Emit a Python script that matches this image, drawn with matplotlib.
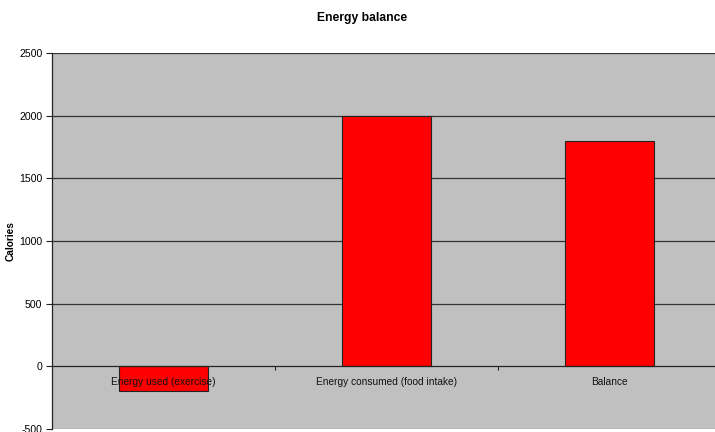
import matplotlib
matplotlib.use("Agg")
import matplotlib.pyplot as plt

categories = ["Energy used (exercise)", "Energy consumed (food intake)", "Balance"]
values = [-200, 2000, 1800]
yticks = [-500, 0, 500, 1000, 1500, 2000, 2500]

plt.rcParams['font.family'] = ['Liberation Sans', 'DejaVu Sans']

fig = plt.figure(figsize=(7.15, 4.32), dpi=100)
W, H = 715, 432
left, right, top, bottom = 52, 721, 53, 429
ax = fig.add_axes([left / W, 1 - bottom / H, (right - left) / W, (bottom - top) / H])
ax.set_facecolor('#C0C0C0')

x = list(range(len(categories)))
ax.bar(x, values, width=0.4, color='#FF0000', edgecolor='#222222', linewidth=0.8, zorder=1)

for t in yticks:
    if t not in (0,):
        ax.axhline(t, color='#333333' if t != yticks[0] else '#808080', lw=0.9, zorder=0.5)

ax.set_xlim(-0.5, len(categories) - 0.5)
ax.set_ylim(yticks[0], yticks[-1])
ax.set_yticks(yticks)
ax.set_yticklabels([str(t) for t in yticks], fontsize=7.6)

ax.spines['bottom'].set_position(('data', 0))
ax.spines['bottom'].set_color('#222222')
ax.spines['bottom'].set_linewidth(0.9)
ax.spines['top'].set_visible(False)
ax.spines['right'].set_visible(False)
ax.spines['left'].set_color('#222222')
ax.spines['left'].set_linewidth(0.9)

ax.set_xticks([i + 0.5 for i in x[:-1]])
ax.set_xticklabels([])
ax.set_xticks(x, minor=True)
ax.set_xticklabels(categories, minor=True, fontsize=7.3, color='#111111')
ax.tick_params(axis='x', which='major', length=3, direction='out', color='#222222', width=0.8)
ax.tick_params(axis='x', which='minor', length=0, pad=8)
ax.tick_params(axis='y', length=4, direction='out', color='#222222', width=0.8, pad=3)

fig.text(362.5 / W, 1 - 18 / H, "Energy balance", ha='center', va='center', fontsize=8.7, fontweight='bold')
fig.text(11 / W, 1 - 241 / H, "Calories", ha='center', va='center', rotation=90, fontsize=7.3, fontweight='bold')

fig.savefig("out.png", dpi=100)
